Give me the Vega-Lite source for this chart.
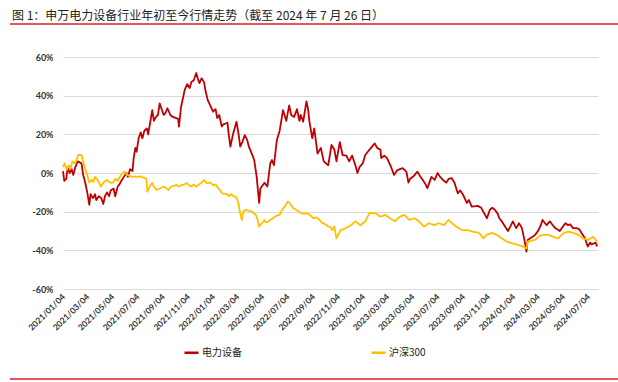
{
  "$schema": "https://vega.github.io/schema/vega-lite/v6.json",
  "width": 535,
  "height": 232,
  "autosize": "none",
  "padding": {"left": 63, "top": 57, "right": 20, "bottom": 93},
  "background": "white",
  "config": {"view": {"stroke": null}, "font": "Lato", "axis": {"labelOverlap": false, "labelFlush": false, "labelBound": false, "tickCount": 40}},
  "title": {
    "text": "图 1：申万电力设备行业年初至今行情走势（截至 2024 年 7 月 26 日）",
    "anchor": "start", "frame": "group", "dx": -51, "offset": -5, "baseline": "middle",
    "font": "Noto Sans CJK SC", "fontSize": 12, "fontWeight": "normal", "color": "#222222"
  },
  "datasets": {
    "series": [
      {"d":"2021-01-04","s":"电力设备","v":1},{"d":"2021-01-07","s":"电力设备","v":-4},{"d":"2021-01-12","s":"电力设备","v":-3},{"d":"2021-01-15","s":"电力设备","v":3},{"d":"2021-01-20","s":"电力设备","v":0},{"d":"2021-01-25","s":"电力设备","v":2},{"d":"2021-01-29","s":"电力设备","v":-1},{"d":"2021-02-03","s":"电力设备","v":3},{"d":"2021-02-09","s":"电力设备","v":6},{"d":"2021-02-18","s":"电力设备","v":5},{"d":"2021-02-22","s":"电力设备","v":-1},{"d":"2021-02-26","s":"电力设备","v":-4},{"d":"2021-03-04","s":"电力设备","v":-10},{"d":"2021-03-09","s":"电力设备","v":-16.5},{"d":"2021-03-12","s":"电力设备","v":-11},{"d":"2021-03-18","s":"电力设备","v":-13},{"d":"2021-03-23","s":"电力设备","v":-11},{"d":"2021-03-26","s":"电力设备","v":-14},{"d":"2021-04-01","s":"电力设备","v":-12},{"d":"2021-04-07","s":"电力设备","v":-13},{"d":"2021-04-12","s":"电力设备","v":-16},{"d":"2021-04-16","s":"电力设备","v":-12},{"d":"2021-04-21","s":"电力设备","v":-10},{"d":"2021-04-26","s":"电力设备","v":-12},{"d":"2021-04-30","s":"电力设备","v":-9},{"d":"2021-05-07","s":"电力设备","v":-8},{"d":"2021-05-11","s":"电力设备","v":-12},{"d":"2021-05-17","s":"电力设备","v":-7},{"d":"2021-05-21","s":"电力设备","v":-6},{"d":"2021-05-26","s":"电力设备","v":-4},{"d":"2021-06-01","s":"电力设备","v":-2},{"d":"2021-06-07","s":"电力设备","v":0},{"d":"2021-06-11","s":"电力设备","v":-2},{"d":"2021-06-16","s":"电力设备","v":2},{"d":"2021-06-22","s":"电力设备","v":1},{"d":"2021-06-25","s":"电力设备","v":8},{"d":"2021-06-29","s":"电力设备","v":13},{"d":"2021-07-02","s":"电力设备","v":11},{"d":"2021-07-07","s":"电力设备","v":18},{"d":"2021-07-12","s":"电力设备","v":21},{"d":"2021-07-16","s":"电力设备","v":18},{"d":"2021-07-21","s":"电力设备","v":22},{"d":"2021-07-27","s":"电力设备","v":23},{"d":"2021-07-30","s":"电力设备","v":20},{"d":"2021-08-04","s":"电力设备","v":26},{"d":"2021-08-09","s":"电力设备","v":32.5},{"d":"2021-08-13","s":"电力设备","v":27},{"d":"2021-08-18","s":"电力设备","v":29},{"d":"2021-08-23","s":"电力设备","v":30},{"d":"2021-08-27","s":"电力设备","v":36},{"d":"2021-09-01","s":"电力设备","v":33},{"d":"2021-09-06","s":"电力设备","v":30},{"d":"2021-09-10","s":"电力设备","v":31},{"d":"2021-09-15","s":"电力设备","v":33.5},{"d":"2021-09-22","s":"电力设备","v":30},{"d":"2021-09-28","s":"电力设备","v":29},{"d":"2021-10-11","s":"电力设备","v":28},{"d":"2021-10-13","s":"电力设备","v":24},{"d":"2021-10-18","s":"电力设备","v":34},{"d":"2021-10-22","s":"电力设备","v":38},{"d":"2021-10-27","s":"电力设备","v":43},{"d":"2021-11-02","s":"电力设备","v":46},{"d":"2021-11-08","s":"电力设备","v":44},{"d":"2021-11-12","s":"电力设备","v":47},{"d":"2021-11-18","s":"电力设备","v":48},{"d":"2021-11-24","s":"电力设备","v":51.7},{"d":"2021-11-29","s":"电力设备","v":48},{"d":"2021-12-02","s":"电力设备","v":46.5},{"d":"2021-12-07","s":"电力设备","v":49},{"d":"2021-12-13","s":"电力设备","v":47},{"d":"2021-12-17","s":"电力设备","v":42},{"d":"2021-12-22","s":"电力设备","v":37.7},{"d":"2021-12-28","s":"电力设备","v":35},
      {"d":"2022-01-04","s":"电力设备","v":31.7},{"d":"2022-01-10","s":"电力设备","v":33},{"d":"2022-01-14","s":"电力设备","v":28.4},{"d":"2022-01-19","s":"电力设备","v":30},{"d":"2022-01-25","s":"电力设备","v":24},{"d":"2022-01-28","s":"电力设备","v":25},{"d":"2022-02-08","s":"电力设备","v":26},{"d":"2022-02-11","s":"电力设备","v":20},{"d":"2022-02-15","s":"电力设备","v":13.6},{"d":"2022-02-22","s":"电力设备","v":20.6},{"d":"2022-03-02","s":"电力设备","v":26.5},{"d":"2022-03-07","s":"电力设备","v":20},{"d":"2022-03-11","s":"电力设备","v":13.6},{"d":"2022-03-16","s":"电力设备","v":16},{"d":"2022-03-22","s":"电力设备","v":19.6},{"d":"2022-03-28","s":"电力设备","v":17},{"d":"2022-04-01","s":"电力设备","v":13.6},{"d":"2022-04-08","s":"电力设备","v":10},{"d":"2022-04-14","s":"电力设备","v":6.7},{"d":"2022-04-20","s":"电力设备","v":-2},{"d":"2022-04-26","s":"电力设备","v":-15.5},{"d":"2022-04-29","s":"电力设备","v":-8},{"d":"2022-05-09","s":"电力设备","v":-5},{"d":"2022-05-16","s":"电力设备","v":-7},{"d":"2022-05-23","s":"电力设备","v":5},{"d":"2022-05-27","s":"电力设备","v":6.7},{"d":"2022-06-01","s":"电力设备","v":4},{"d":"2022-06-08","s":"电力设备","v":17},{"d":"2022-06-15","s":"电力设备","v":22},{"d":"2022-06-23","s":"电力设备","v":32.5},{"d":"2022-07-01","s":"电力设备","v":27},{"d":"2022-07-08","s":"电力设备","v":35},{"d":"2022-07-13","s":"电力设备","v":30},{"d":"2022-07-20","s":"电力设备","v":29},{"d":"2022-07-27","s":"电力设备","v":33},{"d":"2022-08-02","s":"电力设备","v":27},{"d":"2022-08-05","s":"电力设备","v":30},{"d":"2022-08-11","s":"电力设备","v":26.5},{"d":"2022-08-19","s":"电力设备","v":37},{"d":"2022-08-23","s":"电力设备","v":33},{"d":"2022-08-26","s":"电力设备","v":27},{"d":"2022-09-02","s":"电力设备","v":18},{"d":"2022-09-07","s":"电力设备","v":23},{"d":"2022-09-15","s":"电力设备","v":10},{"d":"2022-09-23","s":"电力设备","v":13},{"d":"2022-09-30","s":"电力设备","v":6},{"d":"2022-10-11","s":"电力设备","v":4},{"d":"2022-10-19","s":"电力设备","v":14.5},{"d":"2022-10-26","s":"电力设备","v":12},{"d":"2022-10-31","s":"电力设备","v":6},{"d":"2022-11-08","s":"电力设备","v":16},{"d":"2022-11-15","s":"电力设备","v":9.3},{"d":"2022-11-24","s":"电力设备","v":9},{"d":"2022-12-01","s":"电力设备","v":6},{"d":"2022-12-08","s":"电力设备","v":9},{"d":"2022-12-16","s":"电力设备","v":4},{"d":"2022-12-21","s":"电力设备","v":0},{"d":"2022-12-26","s":"电力设备","v":3},
      {"d":"2023-01-03","s":"电力设备","v":5},{"d":"2023-01-09","s":"电力设备","v":9.3},{"d":"2023-01-19","s":"电力设备","v":12},{"d":"2023-02-01","s":"电力设备","v":15.3},{"d":"2023-02-07","s":"电力设备","v":13},{"d":"2023-02-15","s":"电力设备","v":12},{"d":"2023-02-17","s":"电力设备","v":7.7},{"d":"2023-02-24","s":"电力设备","v":9},{"d":"2023-03-03","s":"电力设备","v":7.7},{"d":"2023-03-13","s":"电力设备","v":3},{"d":"2023-03-20","s":"电力设备","v":-1},{"d":"2023-03-28","s":"电力设备","v":1.5},{"d":"2023-04-10","s":"电力设备","v":2.5},{"d":"2023-04-19","s":"电力设备","v":0.7},{"d":"2023-04-24","s":"电力设备","v":-5},{"d":"2023-04-28","s":"电力设备","v":-3},{"d":"2023-05-05","s":"电力设备","v":-2},{"d":"2023-05-16","s":"电力设备","v":0.7},{"d":"2023-05-22","s":"电力设备","v":-1.5},{"d":"2023-05-29","s":"电力设备","v":-3.6},{"d":"2023-06-05","s":"电力设备","v":-6},{"d":"2023-06-09","s":"电力设备","v":-7.8},{"d":"2023-06-19","s":"电力设备","v":-2},{"d":"2023-06-27","s":"电力设备","v":-3.6},{"d":"2023-07-04","s":"电力设备","v":0},{"d":"2023-07-10","s":"电力设备","v":-2},{"d":"2023-07-17","s":"电力设备","v":-3.6},{"d":"2023-07-25","s":"电力设备","v":-5},{"d":"2023-07-31","s":"电力设备","v":-3},{"d":"2023-08-07","s":"电力设备","v":-2.6},{"d":"2023-08-14","s":"电力设备","v":-5},{"d":"2023-08-22","s":"电力设备","v":-10.5},{"d":"2023-08-28","s":"电力设备","v":-9},{"d":"2023-09-04","s":"电力设备","v":-11.3},{"d":"2023-09-13","s":"电力设备","v":-15.5},{"d":"2023-09-18","s":"电力设备","v":-14},{"d":"2023-09-25","s":"电力设备","v":-17.4},{"d":"2023-10-09","s":"电力设备","v":-17},{"d":"2023-10-13","s":"电力设备","v":-17.4},{"d":"2023-10-18","s":"电力设备","v":-18},{"d":"2023-10-23","s":"电力设备","v":-20},{"d":"2023-11-01","s":"电力设备","v":-23.4},{"d":"2023-11-08","s":"电力设备","v":-19},{"d":"2023-11-14","s":"电力设备","v":-18},{"d":"2023-11-20","s":"电力设备","v":-19},{"d":"2023-11-27","s":"电力设备","v":-21},{"d":"2023-12-01","s":"电力设备","v":-23.4},{"d":"2023-12-07","s":"电力设备","v":-25},{"d":"2023-12-13","s":"电力设备","v":-27},{"d":"2023-12-22","s":"电力设备","v":-30},{"d":"2023-12-27","s":"电力设备","v":-28},
      {"d":"2024-01-03","s":"电力设备","v":-25},{"d":"2024-01-11","s":"电力设备","v":-28.5},{"d":"2024-01-18","s":"电力设备","v":-26},{"d":"2024-01-25","s":"电力设备","v":-28.5},{"d":"2024-01-31","s":"电力设备","v":-34.6},{"d":"2024-02-05","s":"电力设备","v":-40.7},{"d":"2024-02-08","s":"电力设备","v":-34.6},{"d":"2024-02-20","s":"电力设备","v":-33},{"d":"2024-02-26","s":"电力设备","v":-32},{"d":"2024-03-04","s":"电力设备","v":-30},{"d":"2024-03-11","s":"电力设备","v":-27},{"d":"2024-03-15","s":"电力设备","v":-24.3},{"d":"2024-03-25","s":"电力设备","v":-27},{"d":"2024-04-02","s":"电力设备","v":-25},{"d":"2024-04-09","s":"电力设备","v":-27},{"d":"2024-04-15","s":"电力设备","v":-28.5},{"d":"2024-04-19","s":"电力设备","v":-29},{"d":"2024-04-26","s":"电力设备","v":-30},{"d":"2024-05-06","s":"电力设备","v":-27},{"d":"2024-05-10","s":"电力设备","v":-26},{"d":"2024-05-16","s":"电力设备","v":-27},{"d":"2024-05-21","s":"电力设备","v":-26.5},{"d":"2024-05-28","s":"电力设备","v":-28.5},{"d":"2024-06-06","s":"电力设备","v":-28.5},{"d":"2024-06-12","s":"电力设备","v":-29},{"d":"2024-06-18","s":"电力设备","v":-31},{"d":"2024-06-26","s":"电力设备","v":-33.6},{"d":"2024-07-03","s":"电力设备","v":-38},{"d":"2024-07-09","s":"电力设备","v":-36},{"d":"2024-07-12","s":"电力设备","v":-37},{"d":"2024-07-22","s":"电力设备","v":-36},{"d":"2024-07-26","s":"电力设备","v":-38},

      {"d":"2021-01-04","s":"沪深300","v":3},{"d":"2021-01-08","s":"沪深300","v":5},{"d":"2021-01-13","s":"沪深300","v":1.5},{"d":"2021-01-18","s":"沪深300","v":4},{"d":"2021-01-22","s":"沪深300","v":2},{"d":"2021-01-27","s":"沪深300","v":6},{"d":"2021-02-03","s":"沪深300","v":5},{"d":"2021-02-10","s":"沪深300","v":9.3},{"d":"2021-02-18","s":"沪深300","v":9.3},{"d":"2021-02-22","s":"沪深300","v":6},{"d":"2021-02-26","s":"沪深300","v":3},{"d":"2021-03-04","s":"沪深300","v":-1},{"d":"2021-03-09","s":"沪深300","v":-5},{"d":"2021-03-15","s":"沪深300","v":-3.5},{"d":"2021-03-19","s":"沪深300","v":-4.6},{"d":"2021-03-23","s":"沪深300","v":-2},{"d":"2021-03-29","s":"沪深300","v":-3.6},{"d":"2021-04-06","s":"沪深300","v":-7},{"d":"2021-04-12","s":"沪深300","v":-5},{"d":"2021-04-21","s":"沪深300","v":-3.6},{"d":"2021-04-28","s":"沪深300","v":-5},{"d":"2021-05-06","s":"沪深300","v":-5},{"d":"2021-05-11","s":"沪深300","v":-3},{"d":"2021-05-17","s":"沪深300","v":-4},{"d":"2021-05-25","s":"沪深300","v":-1},{"d":"2021-06-02","s":"沪深300","v":0.7},{"d":"2021-06-09","s":"沪深300","v":-1},{"d":"2021-06-15","s":"沪深300","v":-1.5},{"d":"2021-06-22","s":"沪深300","v":-2},{"d":"2021-06-28","s":"沪深300","v":-1.8},{"d":"2021-07-05","s":"沪深300","v":-2},{"d":"2021-07-12","s":"沪深300","v":-1.8},{"d":"2021-07-20","s":"沪深300","v":-2.5},{"d":"2021-07-26","s":"沪深300","v":-3},{"d":"2021-07-28","s":"沪深300","v":-9.7},{"d":"2021-08-03","s":"沪深300","v":-7},{"d":"2021-08-09","s":"沪深300","v":-5.2},{"d":"2021-08-13","s":"沪深300","v":-7},{"d":"2021-08-20","s":"沪深300","v":-8.8},{"d":"2021-08-27","s":"沪深300","v":-8},{"d":"2021-09-06","s":"沪深300","v":-7},{"d":"2021-09-13","s":"沪深300","v":-8},{"d":"2021-09-17","s":"沪深300","v":-8.8},{"d":"2021-09-24","s":"沪深300","v":-7},{"d":"2021-10-08","s":"沪深300","v":-6.2},{"d":"2021-10-12","s":"沪深300","v":-7},{"d":"2021-10-19","s":"沪深300","v":-6.2},{"d":"2021-10-26","s":"沪深300","v":-6},{"d":"2021-11-01","s":"沪深300","v":-5.2},{"d":"2021-11-05","s":"沪深300","v":-6},{"d":"2021-11-11","s":"沪深300","v":-7},{"d":"2021-11-18","s":"沪深300","v":-6},{"d":"2021-11-24","s":"沪深300","v":-7},{"d":"2021-11-30","s":"沪深300","v":-6},{"d":"2021-12-06","s":"沪深300","v":-5.2},{"d":"2021-12-13","s":"沪深300","v":-3.6},{"d":"2021-12-20","s":"沪深300","v":-5.2},{"d":"2021-12-28","s":"沪深300","v":-5},
      {"d":"2022-01-04","s":"沪深300","v":-6.2},{"d":"2022-01-10","s":"沪深300","v":-6},{"d":"2022-01-17","s":"沪深300","v":-8},{"d":"2022-01-21","s":"沪深300","v":-9},{"d":"2022-01-26","s":"沪深300","v":-10.5},{"d":"2022-02-08","s":"沪深300","v":-11},{"d":"2022-02-11","s":"沪深300","v":-12},{"d":"2022-02-17","s":"沪深300","v":-11},{"d":"2022-02-23","s":"沪深300","v":-12},{"d":"2022-03-01","s":"沪深300","v":-12.5},{"d":"2022-03-04","s":"沪深300","v":-14},{"d":"2022-03-07","s":"沪深300","v":-16},{"d":"2022-03-10","s":"沪深300","v":-20},{"d":"2022-03-15","s":"沪深300","v":-24.3},{"d":"2022-03-18","s":"沪深300","v":-20},{"d":"2022-03-24","s":"沪深300","v":-19},{"d":"2022-03-31","s":"沪深300","v":-19.5},{"d":"2022-04-08","s":"沪深300","v":-20},{"d":"2022-04-18","s":"沪深300","v":-21.7},{"d":"2022-04-22","s":"沪深300","v":-24},{"d":"2022-04-26","s":"沪深300","v":-27.7},{"d":"2022-05-09","s":"沪深300","v":-24.3},{"d":"2022-05-12","s":"沪深300","v":-25.5},{"d":"2022-05-19","s":"沪深300","v":-25},{"d":"2022-05-25","s":"沪深300","v":-24},{"d":"2022-06-01","s":"沪深300","v":-23},{"d":"2022-06-08","s":"沪深300","v":-22},{"d":"2022-06-15","s":"沪深300","v":-21.7},{"d":"2022-06-21","s":"沪深300","v":-19},{"d":"2022-06-27","s":"沪深300","v":-17.4},{"d":"2022-07-05","s":"沪深300","v":-14.8},{"d":"2022-07-11","s":"沪深300","v":-16},{"d":"2022-07-18","s":"沪深300","v":-18.2},{"d":"2022-07-25","s":"沪深300","v":-19},{"d":"2022-08-01","s":"沪深300","v":-20},{"d":"2022-08-08","s":"沪深300","v":-21},{"d":"2022-08-15","s":"沪深300","v":-21},{"d":"2022-08-22","s":"沪深300","v":-20.8},{"d":"2022-08-29","s":"沪深300","v":-22},{"d":"2022-09-05","s":"沪深300","v":-23.4},{"d":"2022-09-13","s":"沪深300","v":-23},{"d":"2022-09-20","s":"沪深300","v":-24.3},{"d":"2022-09-26","s":"沪深300","v":-26},{"d":"2022-09-30","s":"沪深300","v":-26},{"d":"2022-10-11","s":"沪深300","v":-27.7},{"d":"2022-10-17","s":"沪深300","v":-28},{"d":"2022-10-21","s":"沪深300","v":-29.5},{"d":"2022-10-26","s":"沪深300","v":-27.7},{"d":"2022-10-31","s":"沪深300","v":-33.8},{"d":"2022-11-10","s":"沪深300","v":-29.5},{"d":"2022-11-22","s":"沪深300","v":-28.6},{"d":"2022-12-05","s":"沪深300","v":-27},{"d":"2022-12-16","s":"沪深300","v":-25},{"d":"2022-12-28","s":"沪深300","v":-27},
      {"d":"2023-01-09","s":"沪深300","v":-25},{"d":"2023-01-19","s":"沪深300","v":-20.8},{"d":"2023-02-03","s":"沪深300","v":-20.8},{"d":"2023-02-15","s":"沪深300","v":-22.6},{"d":"2023-02-27","s":"沪深300","v":-21.7},{"d":"2023-03-10","s":"沪深300","v":-23.4},{"d":"2023-03-22","s":"沪深300","v":-25},{"d":"2023-04-03","s":"沪深300","v":-22.6},{"d":"2023-04-14","s":"沪深300","v":-21.7},{"d":"2023-04-26","s":"沪深300","v":-24.3},{"d":"2023-05-09","s":"沪深300","v":-23.4},{"d":"2023-05-19","s":"沪深300","v":-25},{"d":"2023-06-01","s":"沪深300","v":-27.7},{"d":"2023-06-13","s":"沪深300","v":-26},{"d":"2023-06-25","s":"沪深300","v":-27},{"d":"2023-07-07","s":"沪深300","v":-26},{"d":"2023-07-19","s":"沪深300","v":-27},{"d":"2023-07-31","s":"沪深300","v":-24.3},{"d":"2023-08-08","s":"沪深300","v":-26},{"d":"2023-08-18","s":"沪深300","v":-27.7},{"d":"2023-09-01","s":"沪深300","v":-29.5},{"d":"2023-09-15","s":"沪深300","v":-29.5},{"d":"2023-09-27","s":"沪深300","v":-30.3},{"d":"2023-10-13","s":"沪深300","v":-31},{"d":"2023-10-23","s":"沪深300","v":-33.8},{"d":"2023-10-31","s":"沪深300","v":-32},{"d":"2023-11-13","s":"沪深300","v":-31},{"d":"2023-11-24","s":"沪深300","v":-32},{"d":"2023-12-07","s":"沪深300","v":-33.8},{"d":"2023-12-19","s":"沪深300","v":-35.5},
      {"d":"2024-01-02","s":"沪深300","v":-36.4},{"d":"2024-01-15","s":"沪深300","v":-37.2},{"d":"2024-01-26","s":"沪深300","v":-38},{"d":"2024-02-05","s":"沪深300","v":-39},{"d":"2024-02-08","s":"沪深300","v":-35.5},{"d":"2024-02-26","s":"沪深300","v":-34.6},{"d":"2024-03-05","s":"沪深300","v":-33},{"d":"2024-03-15","s":"沪深300","v":-32},{"d":"2024-03-29","s":"沪深300","v":-32},{"d":"2024-04-11","s":"沪深300","v":-33},{"d":"2024-04-22","s":"沪深300","v":-33.8},{"d":"2024-05-06","s":"沪深300","v":-31},{"d":"2024-05-17","s":"沪深300","v":-30.3},{"d":"2024-05-29","s":"沪深300","v":-31},{"d":"2024-06-11","s":"沪深300","v":-32},{"d":"2024-06-21","s":"沪深300","v":-33.8},{"d":"2024-07-04","s":"沪深300","v":-34.6},{"d":"2024-07-16","s":"沪深300","v":-33},{"d":"2024-07-26","s":"沪深300","v":-35.5}
    ]
  },
  "layer": [
    {
      "data": {"name": "series"},
      "mark": {"type": "line", "strokeWidth": 1.8, "strokeJoin": "round", "clip": false},
      "encoding": {
        "x": {
          "field": "d", "type": "temporal",
          "scale": {"domain": [{"year": 2021, "month": 1, "date": 4, "utc": true}, {"year": 2024, "month": 7, "date": 28, "utc": true}], "nice": false},
          "axis": {
            "title": null, "tickCount": 40,
            "values": [
              {"year": 2021, "month": 1, "date": 4, "utc": true}, {"year": 2021, "month": 3, "date": 4, "utc": true}, {"year": 2021, "month": 5, "date": 4, "utc": true}, {"year": 2021, "month": 7, "date": 4, "utc": true}, {"year": 2021, "month": 9, "date": 4, "utc": true}, {"year": 2021, "month": 11, "date": 4, "utc": true},
              {"year": 2022, "month": 1, "date": 4, "utc": true}, {"year": 2022, "month": 3, "date": 4, "utc": true}, {"year": 2022, "month": 5, "date": 4, "utc": true}, {"year": 2022, "month": 7, "date": 4, "utc": true}, {"year": 2022, "month": 9, "date": 4, "utc": true}, {"year": 2022, "month": 11, "date": 4, "utc": true},
              {"year": 2023, "month": 1, "date": 4, "utc": true}, {"year": 2023, "month": 3, "date": 4, "utc": true}, {"year": 2023, "month": 5, "date": 4, "utc": true}, {"year": 2023, "month": 7, "date": 4, "utc": true}, {"year": 2023, "month": 9, "date": 4, "utc": true}, {"year": 2023, "month": 11, "date": 4, "utc": true},
              {"year": 2024, "month": 1, "date": 4, "utc": true}, {"year": 2024, "month": 3, "date": 4, "utc": true}, {"year": 2024, "month": 5, "date": 4, "utc": true}, {"year": 2024, "month": 7, "date": 4, "utc": true}
            ],
            "labelExpr": "utcFormat(datum.value, '%Y/%m/%d')",
            "labelAngle": -45, "labelAlign": "right", "labelBaseline": "middle",
            "labelPadding": 6, "labelFont": "Lato", "labelFontSize": 8.5, "labelFontWeight": "bold", "labelColor": "#333333",
            "labelOverlap": false, "labelFlush": false, "labelBound": false,
            "grid": false, "domain": false, "ticks": false
          }
        },
        "y": {
          "field": "v", "type": "quantitative",
          "scale": {"domain": [-60, 60], "nice": false, "zero": false},
          "axis": {
            "title": null, "tickCount": 40, "values": [-60, -40, -20, 0, 20, 40, 60],
            "labelExpr": "datum.value + '%'", "labelOverlap": false, "labelFlush": false,
            "labelFont": "Lato", "labelFontSize": 9, "labelFontWeight": "bold", "labelColor": "#333333", "labelPadding": 10,
            "grid": true, "gridColor": "#d9d9d9", "gridWidth": 1, "domain": false, "ticks": false
          }
        },
        "color": {
          "field": "s", "type": "nominal",
          "scale": {"domain": ["电力设备", "沪深300"], "range": ["#C00000", "#FFC000"]},
          "legend": {
            "title": null, "orient": "none", "legendX": 120, "legendY": 287, "direction": "horizontal", "columns": 2,
            "symbolType": "stroke", "symbolSize": 196, "symbolStrokeWidth": 2.5, "columnPadding": 124, "labelOffset": 2,
            "labelFont": "Noto Sans CJK SC", "labelFontSize": 10, "labelColor": "#222222"
          }
        }
      }
    },
    {
      "data": {"values": [{"k": "top"}]},
      "mark": {"type": "rule", "color": "#D42027", "strokeWidth": 1.5},
      "encoding": {
        "x": {"datum": {"year": 2020, "month": 8, "date": 28, "utc": true}, "type": "temporal"},
        "x2": {"datum": {"year": 2024, "month": 9, "date": 15, "utc": true}},
        "y": {"datum": 77.07, "type": "quantitative"}
      }
    },
    {
      "data": {"values": [{"k": "bottom"}]},
      "mark": {"type": "rule", "color": "#D42027", "strokeWidth": 1.5},
      "encoding": {
        "x": {"datum": {"year": 2020, "month": 8, "date": 28, "utc": true}, "type": "temporal"},
        "x2": {"datum": {"year": 2024, "month": 9, "date": 15, "utc": true}},
        "y": {"datum": -106.5, "type": "quantitative"}
      }
    }
  ]
}
